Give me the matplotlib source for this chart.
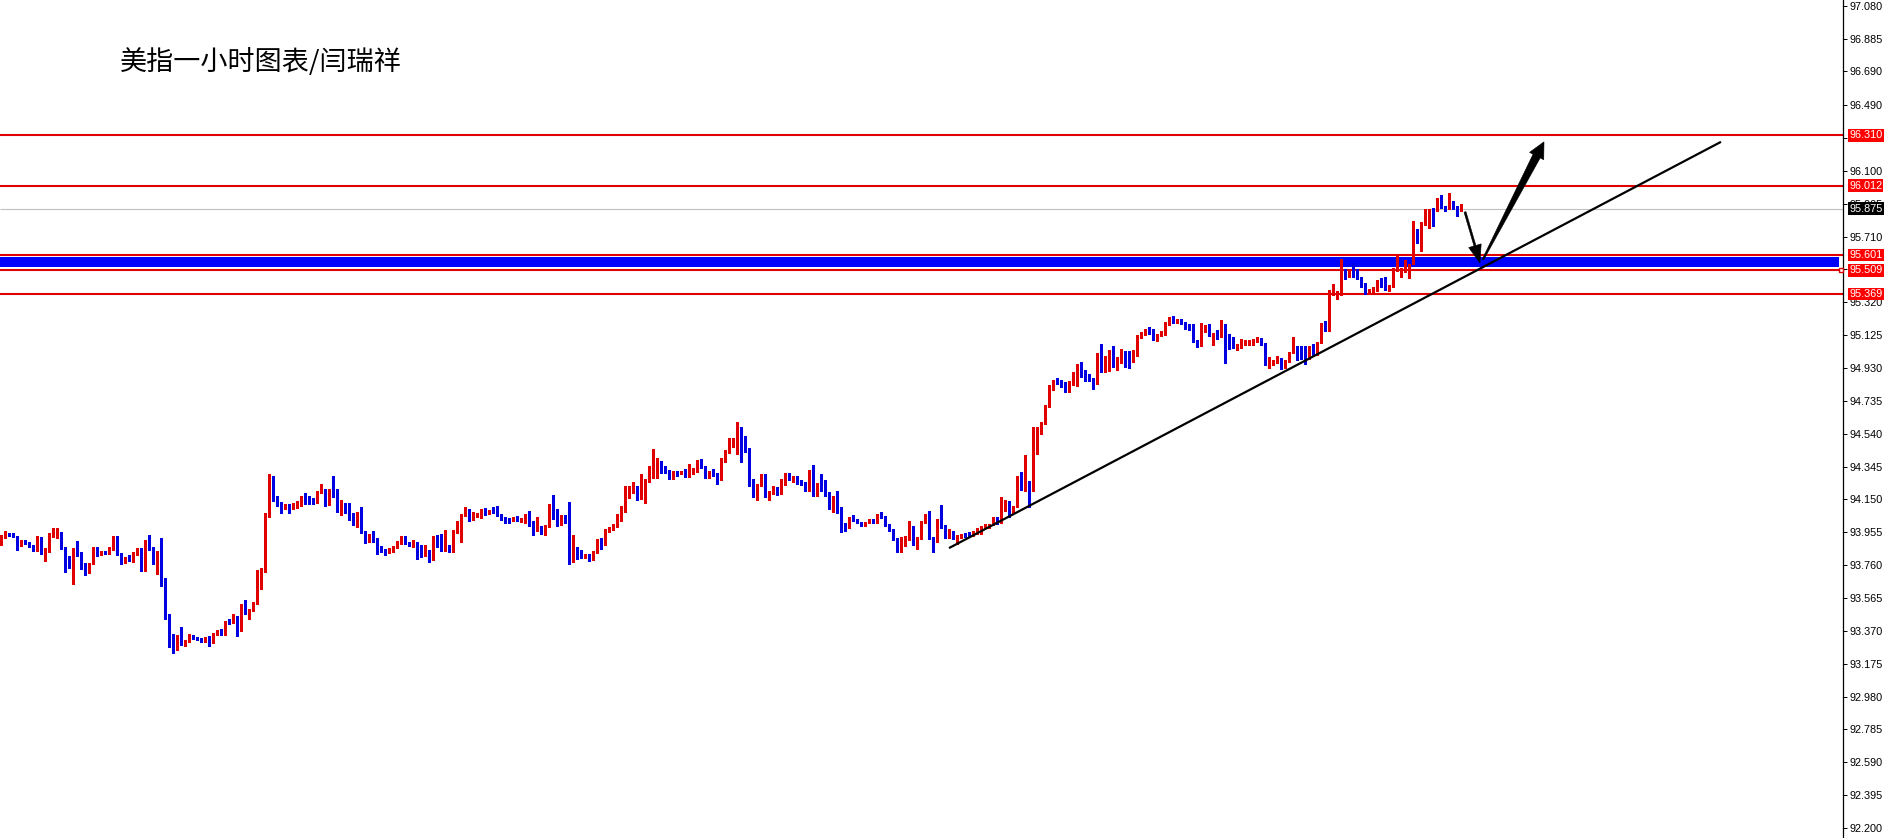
import matplotlib
matplotlib.use('Agg')
import matplotlib.pyplot as plt
import matplotlib.transforms as mtransforms
from matplotlib.patches import Polygon
import numpy as np

# ---------------- data (USD index, 1h candles) ----------------
opens = [
93.885, 93.929, 93.945, 93.94, 93.925, 93.885, 93.905, 93.89, 93.875, 93.85,
93.92, 93.84, 93.845, 93.93, 93.94, 93.95, 93.865, 93.795, 93.75, 93.86,
93.83, 93.765, 93.72, 93.77, 93.855, 93.825, 93.84, 93.83, 93.855, 93.905,
93.825, 93.78, 93.805, 93.785, 93.825, 93.85, 93.77, 93.88, 93.865, 93.77,
93.83, 93.68, 93.465, 93.345, 93.29, 93.34, 93.29, 93.31, 93.34, 93.33,
93.325, 93.31, 93.325, 93.305, 93.35, 93.365, 93.35, 93.425, 93.42, 93.45,
93.375, 93.52, 93.475, 93.49, 93.535, 93.69, 93.725, 94.05, 94.24, 94.15,
94.125, 94.095, 94.115, 94.094, 94.106, 94.114, 94.16, 94.16, 94.154, 94.146,
94.19, 94.204, 94.12, 94.2, 94.19, 94.10, 94.126, 94.086, 94.066, 94.014,
94.046, 93.96, 93.906, 93.934, 93.916, 93.85, 93.85, 93.836, 93.84, 93.864,
93.89, 93.914, 93.896, 93.876, 93.89, 93.826, 93.82, 93.846, 93.806, 93.934,
93.876, 93.85, 93.876, 93.84, 93.956, 93.97, 94.056, 94.09, 94.036, 94.05,
94.044, 94.084, 94.068, 94.084, 94.082, 94.058, 94.044, 94.034, 94.024, 94.038,
94.028, 94.024, 94.062, 94.018, 93.968, 93.984, 93.958, 93.992, 94.108, 94.054,
94.014, 94.032, 94.018, 93.824, 93.852, 93.828, 93.808, 93.824, 93.792, 93.838,
93.908, 93.882, 93.958, 93.974, 93.992, 94.058, 94.078, 94.164, 94.194, 94.228,
94.158, 94.214, 94.258, 94.314, 94.328, 94.372, 94.344, 94.318, 94.272, 94.312,
94.302, 94.312, 94.288, 94.302, 94.314, 94.378, 94.342, 94.278, 94.312, 94.302,
94.268, 94.378, 94.432, 94.464, 94.478, 94.578, 94.508, 94.448, 94.264, 94.178,
94.234, 94.294, 94.168, 94.188, 94.218, 94.188, 94.258, 94.302, 94.258, 94.284,
94.262, 94.252, 94.238, 94.264, 94.208, 94.248, 94.228, 94.188, 94.138, 94.168,
94.098, 94.004, 93.984, 94.042, 94.032, 94.012, 93.998, 94.012, 94.026, 94.016,
94.062, 94.046, 93.999, 93.97, 93.916, 93.876, 93.916, 93.912, 93.952, 93.882,
93.916, 94.012, 94.062, 93.92, 93.906, 94.01, 93.992, 93.922, 93.956, 93.912,
93.926, 93.946, 93.942, 93.936, 93.946, 93.956, 93.982, 93.986, 94.0, 94.04,
94.016, 94.086, 94.136, 94.072, 94.106, 94.256, 94.206, 94.256, 94.21, 94.43,
94.546, 94.606, 94.706, 94.818, 94.858, 94.854, 94.842, 94.798, 94.832, 94.868,
94.942, 94.882, 94.862, 94.864, 94.838, 95.008, 94.942, 94.998, 95.018, 94.952,
94.988, 94.998, 94.988, 94.968, 95.024, 95.112, 95.132, 95.162, 95.158, 95.094,
95.124, 95.128, 95.188, 95.228, 95.202, 95.218, 95.198, 95.178, 95.158, 95.094,
95.064, 95.148, 95.168, 95.124, 95.142, 95.118, 95.188, 95.128, 95.108, 95.052,
95.052, 95.068, 95.068, 95.068, 95.088, 95.102, 95.072, 94.942, 94.952, 94.962,
94.988, 94.932, 94.972, 95.022, 95.032, 95.032, 95.026, 94.988, 95.056, 95.012,
95.082, 95.176, 95.156, 95.366, 95.362, 95.366, 95.512, 95.476, 95.506, 95.512,
95.468, 95.428, 95.376, 95.386, 95.392, 95.446, 95.446, 95.392, 95.412, 95.512,
95.502, 95.502, 95.518, 95.552, 95.722, 95.678, 95.782, 95.818, 95.866, 95.866,
95.932, 95.888, 95.876, 95.918, 95.886, 95.866]

highs = [
93.94, 93.96, 93.95, 93.95, 93.93, 93.91, 93.91, 93.895, 93.88, 93.93,
93.925, 93.86, 93.95, 93.98, 93.98, 93.955, 93.87, 93.815, 93.86, 93.905,
93.835, 93.77, 93.775, 93.865, 93.865, 93.845, 93.845, 93.87, 93.93, 93.935,
93.83, 93.81, 93.82, 93.835, 93.86, 93.86, 93.91, 93.94, 93.87, 93.845,
93.92, 93.685, 93.47, 93.35, 93.345, 93.39, 93.315, 93.35, 93.345, 93.335,
93.33, 93.335, 93.34, 93.355, 93.375, 93.38, 93.43, 93.44, 93.47, 93.455,
93.53, 93.55, 93.50, 93.54, 93.73, 93.74, 94.07, 94.30, 94.29, 94.17,
94.135, 94.12, 94.12, 94.126, 94.14, 94.17, 94.186, 94.17, 94.16, 94.2,
94.244, 94.21, 94.21, 94.286, 94.21, 94.144, 94.13, 94.126, 94.07, 94.074,
94.104, 93.965, 93.945, 93.96, 93.92, 93.874, 93.855, 93.86, 93.875, 93.905,
93.93, 93.93, 93.90, 93.91, 93.895, 93.88, 93.88, 93.85, 93.935, 93.94,
93.944, 93.966, 93.88, 93.97, 94.024, 94.065, 94.104, 94.095, 94.074, 94.07,
94.09, 94.1, 94.086, 94.104, 94.108, 94.062, 94.048, 94.038, 94.046, 94.052,
94.042, 94.066, 94.084, 94.022, 94.048, 93.99, 93.996, 94.124, 94.178, 94.094,
94.058, 94.058, 94.134, 93.938, 93.868, 93.848, 93.826, 93.828, 93.842, 93.912,
93.918, 93.976, 93.988, 94.002, 94.066, 94.108, 94.228, 94.228, 94.254, 94.232,
94.302, 94.268, 94.348, 94.448, 94.394, 94.376, 94.348, 94.322, 94.316, 94.318,
94.318, 94.328, 94.358, 94.338, 94.382, 94.392, 94.346, 94.316, 94.328, 94.306,
94.394, 94.442, 94.514, 94.512, 94.612, 94.582, 94.528, 94.452, 94.268, 94.242,
94.302, 94.298, 94.198, 94.228, 94.222, 94.272, 94.306, 94.308, 94.286, 94.288,
94.266, 94.256, 94.324, 94.354, 94.248, 94.302, 94.264, 94.192, 94.172, 94.202,
94.102, 94.008, 94.046, 94.058, 94.036, 94.016, 94.018, 94.032, 94.032, 94.066,
94.076, 94.05, 94.002, 93.974, 93.92, 93.924, 93.93, 94.02, 93.992, 93.924,
94.02, 94.066, 94.082, 93.924, 94.036, 94.116, 93.996, 93.976, 93.96, 93.936,
93.944, 93.95, 93.956, 93.96, 93.982, 93.994, 94.004, 94.006, 94.044, 94.044,
94.166, 94.144, 94.14, 94.11, 94.29, 94.31, 94.412, 94.26, 94.58, 94.58,
94.61, 94.71, 94.83, 94.86, 94.868, 94.858, 94.846, 94.852, 94.908, 94.952,
94.968, 94.918, 94.892, 94.868, 95.016, 95.072, 95.002, 95.038, 95.058, 94.996,
95.044, 95.028, 95.032, 95.036, 95.128, 95.146, 95.162, 95.174, 95.162, 95.132,
95.152, 95.202, 95.232, 95.238, 95.222, 95.222, 95.202, 95.188, 95.188, 95.098,
95.194, 95.184, 95.188, 95.136, 95.158, 95.214, 95.192, 95.132, 95.112, 95.072,
95.102, 95.098, 95.098, 95.102, 95.112, 95.106, 95.076, 94.996, 94.98, 95.0,
94.992, 94.98, 95.026, 95.116, 95.062, 95.062, 95.062, 95.06, 95.072, 95.086,
95.198, 95.206, 95.392, 95.426, 95.386, 95.578, 95.516, 95.516, 95.552, 95.516,
95.472, 95.432, 95.4, 95.41, 95.45, 95.462, 95.472, 95.422, 95.522, 95.592,
95.522, 95.572, 95.546, 95.802, 95.752, 95.796, 95.872, 95.872, 95.882, 95.936,
95.958, 95.892, 95.966, 95.922, 95.89, 95.902]

lows = [
93.88, 93.92, 93.93, 93.925, 93.85, 93.875, 93.885, 93.865, 93.845, 93.845,
93.825, 93.785, 93.84, 93.925, 93.92, 93.855, 93.72, 93.74, 93.65, 93.815,
93.735, 93.70, 93.715, 93.765, 93.815, 93.82, 93.825, 93.825, 93.85, 93.82,
93.765, 93.775, 93.785, 93.78, 93.82, 93.725, 93.725, 93.85, 93.765, 93.705,
93.635, 93.44, 93.275, 93.24, 93.255, 93.285, 93.28, 93.305, 93.32, 93.315,
93.305, 93.305, 93.28, 93.30, 93.345, 93.345, 93.345, 93.41, 93.415, 93.34,
93.37, 93.47, 93.44, 93.485, 93.53, 93.62, 93.72, 94.045, 94.14, 94.11,
94.07, 94.09, 94.07, 94.09, 94.10, 94.11, 94.12, 94.12, 94.12, 94.13,
94.185, 94.11, 94.115, 94.166, 94.074, 94.06, 94.07, 94.026, 94.0, 93.986,
93.95, 93.89, 93.90, 93.90, 93.824, 93.835, 93.82, 93.83, 93.835, 93.86,
93.885, 93.885, 93.875, 93.87, 93.796, 93.81, 93.815, 93.776, 93.79, 93.865,
93.845, 93.845, 93.835, 93.835, 93.95, 93.90, 94.05, 94.02, 94.03, 94.045,
94.04, 94.06, 94.064, 94.07, 94.05, 94.03, 94.008, 94.01, 94.02, 94.02,
94.014, 94.008, 93.994, 93.938, 93.962, 93.942, 93.938, 93.988, 94.034, 93.994,
93.998, 94.008, 93.768, 93.778, 93.798, 93.804, 93.804, 93.782, 93.788, 93.834,
93.858, 93.878, 93.954, 93.97, 93.988, 94.024, 94.074, 94.16, 94.19, 94.144,
94.154, 94.128, 94.254, 94.278, 94.278, 94.308, 94.308, 94.268, 94.268, 94.29,
94.298, 94.284, 94.284, 94.298, 94.31, 94.334, 94.274, 94.274, 94.29, 94.244,
94.264, 94.374, 94.424, 94.46, 94.422, 94.374, 94.434, 94.232, 94.164, 94.144,
94.23, 94.164, 94.144, 94.184, 94.178, 94.184, 94.238, 94.264, 94.254, 94.244,
94.238, 94.198, 94.198, 94.172, 94.168, 94.198, 94.168, 94.094, 94.074, 94.068,
93.958, 93.962, 93.98, 94.02, 94.008, 93.994, 93.992, 94.008, 94.01, 94.012,
94.042, 93.992, 93.962, 93.906, 93.836, 93.836, 93.876, 93.908, 93.878, 93.856,
93.912, 94.008, 93.912, 93.836, 93.9, 93.98, 93.918, 93.918, 93.912, 93.886,
93.922, 93.928, 93.926, 93.932, 93.942, 93.946, 93.978, 93.982, 93.996, 94.002,
94.012, 94.082, 94.046, 94.068, 94.102, 94.206, 94.202, 94.102, 94.20, 94.42,
94.54, 94.60, 94.70, 94.798, 94.832, 94.818, 94.788, 94.788, 94.828, 94.824,
94.874, 94.854, 94.85, 94.804, 94.834, 94.908, 94.908, 94.912, 94.938, 94.918,
94.958, 94.938, 94.928, 94.964, 94.998, 95.108, 95.128, 95.134, 95.094, 95.09,
95.12, 95.124, 95.184, 95.198, 95.198, 95.19, 95.164, 95.154, 95.084, 95.054,
95.06, 95.144, 95.12, 95.068, 95.104, 95.114, 94.958, 95.044, 95.05, 95.038,
95.048, 95.064, 95.064, 95.064, 95.084, 95.068, 94.948, 94.932, 94.948, 94.958,
94.922, 94.928, 94.968, 95.018, 94.978, 94.982, 94.952, 94.984, 95.008, 95.008,
95.078, 95.152, 95.152, 95.362, 95.342, 95.362, 95.456, 95.472, 95.468, 95.458,
95.412, 95.368, 95.372, 95.382, 95.388, 95.408, 95.392, 95.388, 95.408, 95.508,
95.472, 95.498, 95.462, 95.548, 95.674, 95.622, 95.778, 95.762, 95.772, 95.862,
95.878, 95.862, 95.872, 95.872, 95.832, 95.862]

closes = [
93.929, 93.945, 93.935, 93.93, 93.89, 93.905, 93.89, 93.87, 93.85, 93.925,
93.83, 93.85, 93.93, 93.935, 93.95, 93.86, 93.79, 93.75, 93.855, 93.82,
93.755, 93.72, 93.77, 93.86, 93.82, 93.84, 93.83, 93.865, 93.905, 93.825,
93.78, 93.805, 93.795, 93.83, 93.855, 93.77, 93.885, 93.855, 93.77, 93.83,
93.675, 93.465, 93.345, 93.295, 93.34, 93.29, 93.31, 93.34, 93.325, 93.32,
93.31, 93.33, 93.305, 93.35, 93.36, 93.35, 93.425, 93.415, 93.46, 93.375,
93.52, 93.475, 93.495, 93.535, 93.69, 93.725, 94.05, 94.24, 94.15, 94.12,
94.095, 94.115, 94.08, 94.114, 94.126, 94.166, 94.15, 94.146, 94.14, 94.194,
94.206, 94.116, 94.206, 94.18, 94.09, 94.126, 94.08, 94.06, 94.014, 94.05,
93.956, 93.906, 93.94, 93.906, 93.84, 93.84, 93.84, 93.856, 93.87, 93.90,
93.914, 93.89, 93.88, 93.896, 93.82, 93.816, 93.846, 93.806, 93.93, 93.87,
93.85, 93.876, 93.84, 93.96, 93.976, 94.06, 94.086, 94.026, 94.064, 94.064,
94.084, 94.068, 94.082, 94.074, 94.054, 94.034, 94.024, 94.024, 94.042, 94.024,
94.038, 94.062, 94.022, 93.968, 93.982, 93.962, 93.992, 94.102, 94.054, 94.014,
94.032, 94.024, 93.828, 93.852, 93.818, 93.808, 93.822, 93.794, 93.838, 93.908,
93.882, 93.972, 93.984, 93.998, 94.062, 94.088, 94.168, 94.198, 94.222, 94.158,
94.218, 94.264, 94.318, 94.338, 94.372, 94.338, 94.312, 94.272, 94.312, 94.294,
94.314, 94.288, 94.312, 94.324, 94.378, 94.338, 94.278, 94.312, 94.294, 94.272,
94.384, 94.438, 94.478, 94.482, 94.578, 94.508, 94.438, 94.258, 94.182, 94.238,
94.298, 94.168, 94.194, 94.224, 94.188, 94.268, 94.302, 94.268, 94.282, 94.248,
94.252, 94.238, 94.264, 94.208, 94.244, 94.224, 94.182, 94.142, 94.168, 94.094,
94.004, 93.984, 94.042, 94.024, 94.012, 93.998, 94.014, 94.028, 94.016, 94.062,
94.046, 93.996, 93.966, 93.91, 93.872, 93.92, 93.926, 93.952, 93.882, 93.92,
94.016, 94.062, 93.916, 93.902, 94.01, 93.986, 93.922, 93.956, 93.916, 93.932,
93.94, 93.932, 93.93, 93.956, 93.97, 93.99, 94.0, 94.002, 94.04, 94.006,
94.086, 94.14, 94.076, 94.106, 94.256, 94.21, 94.252, 94.21, 94.43, 94.55,
94.606, 94.706, 94.826, 94.854, 94.848, 94.828, 94.798, 94.848, 94.868, 94.948,
94.878, 94.858, 94.854, 94.838, 95.012, 94.942, 94.998, 95.018, 94.952, 94.992,
94.998, 94.978, 94.984, 95.032, 95.124, 95.142, 95.158, 95.138, 95.098, 95.128,
95.148, 95.198, 95.228, 95.202, 95.218, 95.194, 95.168, 95.158, 95.088, 95.058,
95.158, 95.174, 95.124, 95.132, 95.128, 95.194, 95.118, 95.102, 95.054, 95.068,
95.098, 95.094, 95.094, 95.092, 95.106, 95.072, 94.952, 94.992, 94.976, 94.996,
94.942, 94.976, 95.022, 95.042, 94.982, 95.018, 94.982, 95.056, 95.012, 95.082,
95.182, 95.156, 95.376, 95.382, 95.382, 95.548, 95.482, 95.506, 95.472, 95.462,
95.422, 95.378, 95.396, 95.406, 95.446, 95.412, 95.396, 95.418, 95.518, 95.542,
95.518, 95.542, 95.542, 95.722, 95.678, 95.792, 95.868, 95.842, 95.816, 95.932,
95.882, 95.872, 95.912, 95.882, 95.858, 95.875]

title = "美指一小时图表/闫瑞祥"
tick_values = [97.080, 96.885, 96.690, 96.490, 96.295, 96.100, 95.905, 95.710,
               95.515, 95.320, 95.125, 94.930, 94.735, 94.540, 94.345, 94.150,
               93.955, 93.760, 93.565, 93.370, 93.175, 92.980, 92.785, 92.590,
               92.395, 92.200]
level_prices = [96.310, 96.012, 95.601, 95.509, 95.369]
current_price = 95.875
band_low, band_high = 95.527, 95.590
trend_start = (237.0, 93.861)
trend_end = (430.0, 96.272)
down_arrow = ((366.0, 95.856), (369.75, 95.553))
up_arrow = ((370.5, 95.574), (385.75, 96.272))

# ---------------- style ----------------
RED = '#e00000'
BLUE = '#0000e0'
W, H = 1884, 838
AX_RIGHT_PX = 1843
FS = 7.8

fig = plt.figure(figsize=(W / 100, H / 100), dpi=100)
ax = fig.add_axes([0, 0, AX_RIGHT_PX / W, 1])
ax.set_xlim(-0.25, 460.5)
ax.set_ylim(92.1403, 97.1138)

for s in ['left', 'top', 'bottom']:
    ax.spines[s].set_visible(False)
ax.spines['right'].set_color('black')
ax.spines['right'].set_linewidth(0.9)
ax.set_xticks([])
ax.yaxis.tick_right()
ax.set_yticks(tick_values)
ax.set_yticklabels([f"{v:.3f}" for v in tick_values])
ax.tick_params(axis='y', length=3, width=0.7, pad=1.6, labelsize=FS,
               colors='black', labelfontfamily='Liberation Sans')

# band and levels
ax.axhspan(band_low, band_high, xmin=0, xmax=1839 / AX_RIGHT_PX,
           color='#0000ff', lw=0, zorder=1)
ax.hlines(level_prices, -0.25, 460.5, colors=RED, lw=1.5, zorder=2)
ax.hlines([current_price], -0.25, 460.5, colors='#c0c0c0', lw=0.8, zorder=1.5)

# candles
o = np.array(opens); h = np.array(highs); l = np.array(lows); c = np.array(closes)
idx = np.arange(len(c))
cols = np.where(c >= o, RED, BLUE)
ax.vlines(idx, l, h, colors=cols, lw=0.75, antialiased=False, zorder=3)
body_bottom = np.minimum(o, c)
body_h = np.maximum(np.abs(c - o), 0.006)
ax.bar(idx, body_h, bottom=body_bottom, width=0.75, color=cols, lw=0,
       antialiased=False, zorder=4)

# trend line
ax.plot([trend_start[0], trend_end[0]], [trend_start[1], trend_end[1]],
        color='black', lw=1.6, zorder=5, solid_capstyle='butt')

def tapered_arrow(tail, tip, w_tail, w_base, head_w, head_len):
    T = ax.transData.transform(tail)
    P = ax.transData.transform(tip)
    u = (P - T) / np.linalg.norm(P - T)
    n = np.array([-u[1], u[0]])
    B = P - u * head_len
    pts = [T + n * w_tail / 2, B + n * w_base / 2, B + n * head_w / 2, P,
           B - n * head_w / 2, B - n * w_base / 2, T - n * w_tail / 2]
    pts = ax.transData.inverted().transform(np.array(pts))
    ax.add_patch(Polygon(pts, closed=True, fc='black', ec='black', lw=0.4,
                         zorder=6))

tapered_arrow(down_arrow[0], down_arrow[1], 2.0, 2.0, 13, 18)
tapered_arrow(up_arrow[0], up_arrow[1], 1.5, 8.0, 16, 16)

# selection marker on the band line
ax.plot([460.0], [level_prices[3]], marker='s', ms=3.5, mfc='white', mec=RED,
        mew=1.0, clip_on=False, zorder=7)

# price boxes on the right scale
bt = mtransforms.blended_transform_factory(fig.transFigure, ax.transData)
for p in level_prices:
    ax.text(1849 / W, p, f"{p:.3f}", transform=bt, color='white', fontsize=FS,
            family='Liberation Sans', va='center', ha='left', clip_on=False,
            zorder=10, bbox=dict(boxstyle='square,pad=0.12', fc='#ff0000',
                                 ec='none'))
ax.text(1849 / W, current_price, f"{current_price:.3f}", transform=bt,
        color='white', fontsize=FS, family='Liberation Sans', va='center',
        ha='left', clip_on=False, zorder=10,
        bbox=dict(boxstyle='square,pad=0.12', fc='black', ec='none'))

# title
fig.text(120 / W, 1 - 62.5 / H, title, fontsize=19.5,
         family=['Noto Sans CJK SC', 'DejaVu Sans'], va='center', ha='left',
         color='black')

fig.savefig('out.png', dpi=100)
